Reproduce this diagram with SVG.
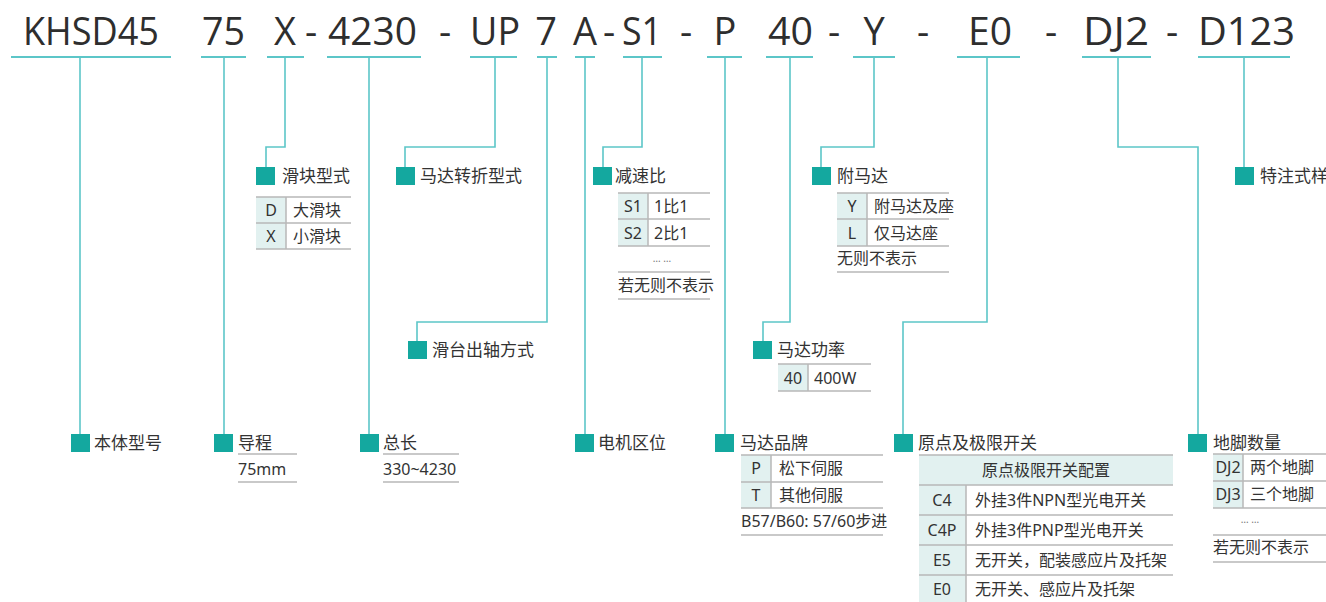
<svg xmlns="http://www.w3.org/2000/svg" width="1326" height="602" viewBox="0 0 1326 602">
<style>
.t{font-family:"Open Sans","Noto Sans",sans-serif;font-size:38px;fill:#2e2e2e}
.tm{text-anchor:middle}
.ul{stroke:#5cc6c8;stroke-width:2;fill:none}
.cn{stroke:#5cc6c8;stroke-width:1.6;fill:none}
.sq{fill:#14a89f}
.lb{font-family:"Noto Sans","Noto Sans CJK SC",sans-serif;font-size:17px;fill:#333}
.tx{font-family:"Noto Sans","Noto Sans CJK SC",sans-serif;font-size:16px;fill:#333}
.dots{font-family:"Noto Sans",sans-serif;font-size:10px;fill:#777;text-anchor:middle}
.bg{fill:#e2f1f0}
.tl{stroke:#b8b8b8;stroke-width:1.5;fill:none}
</style>
<rect width="1326" height="602" fill="#fff"/>
<g id="title">
<text class="t" x="23" y="45" textLength="136" lengthAdjust="spacingAndGlyphs">KHSD45</text>
<text class="t" x="202" y="45" textLength="43" lengthAdjust="spacingAndGlyphs">75</text>
<text class="t tm" x="285" y="45">X</text>
<text class="t tm" x="311" y="45">-</text>
<text class="t" x="328" y="45" textLength="89" lengthAdjust="spacingAndGlyphs">4230</text>
<text class="t tm" x="445" y="45">-</text>
<text class="t" x="470" y="45" textLength="50" lengthAdjust="spacingAndGlyphs">UP</text>
<text class="t tm" x="546" y="45">7</text>
<text class="t tm" x="585" y="45">A</text>
<text class="t tm" x="609" y="45">-</text>
<text class="t" x="622" y="45" textLength="40" lengthAdjust="spacingAndGlyphs">S1</text>
<text class="t tm" x="686" y="45">-</text>
<text class="t tm" x="725" y="45">P</text>
<text class="t" x="768" y="45" textLength="45" lengthAdjust="spacingAndGlyphs">40</text>
<text class="t tm" x="834" y="45">-</text>
<text class="t tm" x="874" y="45">Y</text>
<text class="t tm" x="923" y="45">-</text>
<text class="t" x="968" y="45" textLength="44" lengthAdjust="spacingAndGlyphs">E0</text>
<text class="t tm" x="1051" y="45">-</text>
<text class="t" x="1083" y="45" textLength="66" lengthAdjust="spacingAndGlyphs">DJ2</text>
<text class="t tm" x="1172" y="45">-</text>
<text class="t" x="1198" y="45" textLength="97" lengthAdjust="spacingAndGlyphs">D123</text>
</g>
<g id="connectors">
<path class="ul" d="M11 57H171M201 57H246M267 57H304M327 57H421M470 57H517M537 57H557M575 57H595M623 57H662M707 57H742M766 57H813M853 57H895M957 57H1020M1082 57H1151M1198 57H1290"/>
<path class="cn" d="M80 57V434"/>
<path class="cn" d="M224 57V434"/>
<path class="cn" d="M285 57V147H266V167"/>
<path class="cn" d="M369 57V434"/>
<path class="cn" d="M495 57V147H405V167"/>
<path class="cn" d="M547 57V322H417V341"/>
<path class="cn" d="M585 57V434"/>
<path class="cn" d="M642 57V147H603V167"/>
<path class="cn" d="M725 57V434"/>
<path class="cn" d="M790 57V322H763V341"/>
<path class="cn" d="M874 57V147H821V167"/>
<path class="cn" d="M987 57V322H903V434"/>
<path class="cn" d="M1118 57V147H1198V434"/>
<path class="cn" d="M1244 57V167"/>
</g>
<g id="n-body"><rect class="sq" x="71" y="434" width="19" height="18"/><text class="lb" x="94" y="449">本体型号</text></g>
<g id="n-lead"><rect class="sq" x="214" y="434" width="19" height="18"/><text class="lb" x="238" y="449">导程</text>
<path class="tl" d="M238 454H297M238 482H297"/><text class="tx" x="238" y="475">75mm</text></g>
<g id="n-length"><rect class="sq" x="360" y="434" width="19" height="18"/><text class="lb" x="383" y="449">总长</text>
<path class="tl" d="M383 454H459M383 482H459"/><text class="tx" x="383" y="475">330~4230</text></g>
<g id="n-slider"><rect class="sq" x="256" y="167" width="19" height="18"/><text class="lb" x="282" y="182">滑块型式</text>
<rect class="bg" x="256" y="197" width="30" height="52"/>
<path class="tl" d="M256 197H351M256 223H351M256 249H351M286 197V249"/>
<text class="tx tm" x="271" y="216">D</text><text class="tx" x="293" y="216">大滑块</text>
<text class="tx tm" x="271" y="242">X</text><text class="tx" x="293" y="242">小滑块</text></g>
<g id="n-fold"><rect class="sq" x="396" y="167" width="19" height="18"/><text class="lb" x="420" y="182">马达转折型式</text></g>
<g id="n-shaft"><rect class="sq" x="408" y="341" width="19" height="18"/><text class="lb" x="432" y="356">滑台出轴方式</text></g>
<g id="n-ratio"><rect class="sq" x="593" y="167" width="19" height="18"/><text class="lb" x="615" y="182">减速比</text>
<rect class="bg" x="618" y="193" width="30" height="53"/>
<path class="tl" d="M618 193H710M618 219H710M618 246H710M648 193V246M618 272H710M618 299H710"/>
<text class="tx tm" x="633" y="212">S1</text><text class="tx" x="654" y="212">1比1</text>
<text class="tx tm" x="633" y="239">S2</text><text class="tx" x="654" y="239">2比1</text>
<text class="dots" x="662" y="262">… …</text>
<text class="tx" x="618" y="291">若无则不表示</text></g>
<g id="n-motorpos"><rect class="sq" x="575" y="434" width="19" height="18"/><text class="lb" x="598" y="449">电机区位</text></g>
<g id="n-brand"><rect class="sq" x="715" y="434" width="19" height="18"/><text class="lb" x="740" y="449">马达品牌</text>
<rect class="bg" x="741" y="455" width="30" height="53"/>
<path class="tl" d="M741 455H883M741 482H883M741 508H883M771 455V508M741 535H883"/>
<text class="tx tm" x="756" y="474">P</text><text class="tx" x="779" y="474">松下伺服</text>
<text class="tx tm" x="756" y="501">T</text><text class="tx" x="779" y="501">其他伺服</text>
<text class="tx" x="741" y="527" font-size="15">B57/B60: 57/60步进</text></g>
<g id="n-power"><rect class="sq" x="753" y="341" width="19" height="18"/><text class="lb" x="777" y="356">马达功率</text>
<rect class="bg" x="778" y="364" width="30" height="27"/>
<path class="tl" d="M778 364H871M778 391H871M808 364V391"/>
<text class="tx tm" x="793" y="384">40</text><text class="tx" x="814" y="384">400W</text></g>
<g id="n-attach"><rect class="sq" x="812" y="167" width="19" height="18"/><text class="lb" x="837" y="182">附马达</text>
<rect class="bg" x="837" y="193" width="30" height="53"/>
<path class="tl" d="M837 193H949M837 219H949M837 246H949M867 193V246M837 272H949"/>
<text class="tx tm" x="852" y="212">Y</text><text class="tx" x="874" y="212">附马达及座</text>
<text class="tx tm" x="852" y="239">L</text><text class="tx" x="874" y="239">仅马达座</text>
<text class="tx" x="837" y="264">无则不表示</text></g>
<g id="n-switch"><rect class="sq" x="894" y="434" width="19" height="18"/><text class="lb" x="918" y="449">原点及极限开关</text>
<rect class="bg" x="919" y="455" width="254" height="30"/>
<rect class="bg" x="919" y="485" width="47" height="117"/>
<path class="tl" d="M919 455H1173M919 485H1173M919 515H1173M919 545H1173M919 575H1173M966 485V602"/>
<text class="tx tm" x="1046" y="476">原点极限开关配置</text>
<text class="tx tm" x="942" y="506">C4</text><text class="tx" x="975" y="506">外挂3件NPN型光电开关</text>
<text class="tx tm" x="942" y="536">C4P</text><text class="tx" x="975" y="536">外挂3件PNP型光电开关</text>
<text class="tx tm" x="942" y="566">E5</text><text class="tx" x="975" y="566">无开关，配装感应片及托架</text>
<text class="tx tm" x="942" y="595">E0</text><text class="tx" x="975" y="595">无开关、感应片及托架</text></g>
<g id="n-feet"><rect class="sq" x="1188" y="434" width="19" height="18"/><text class="lb" x="1213" y="449">地脚数量</text>
<rect class="bg" x="1213" y="454" width="30" height="54"/>
<path class="tl" d="M1213 454H1326M1213 481H1326M1213 508H1326M1243 454V508M1213 535H1326M1213 562H1326"/>
<text class="tx tm" x="1228" y="473">DJ2</text><text class="tx" x="1250" y="473">两个地脚</text>
<text class="tx tm" x="1228" y="500">DJ3</text><text class="tx" x="1250" y="500">三个地脚</text>
<text class="dots" x="1250" y="523">… …</text>
<text class="tx" x="1213" y="553">若无则不表示</text></g>
<g id="n-special"><rect class="sq" x="1235" y="167" width="19" height="18"/><text class="lb" x="1260" y="182">特注式样</text></g>
</svg>
